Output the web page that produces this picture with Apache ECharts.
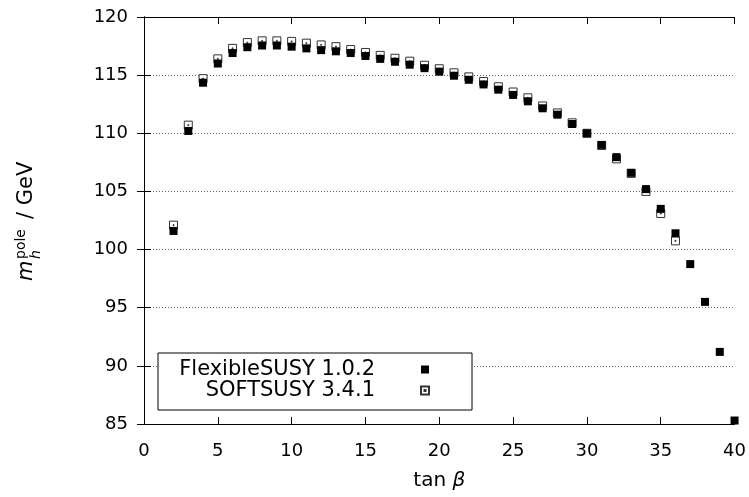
<!DOCTYPE html>
<html>
<head>
<meta charset="utf-8">
<script src="https://cdn.jsdelivr.net/npm/echarts@6/dist/echarts.min.js"></script>
<style>
  html, body { margin: 0; padding: 0; background: #fff; }
  #main { width: 749px; height: 497px; }
</style>
</head>
<body>
<div id="main"></div>
<script>
// tan(beta) values for each spectrum generator
var tanBetaFS = [2, 3, 4, 5, 6, 7, 8, 9, 10, 11, 12, 13, 14, 15, 16, 17, 18, 19, 20,
    21, 22, 23, 24, 25, 26, 27, 28, 29, 30, 31, 32, 33, 34, 35, 36, 37, 38, 39, 40];
var mhFS = [101.6, 110.2, 114.35, 116.0, 116.9, 117.4, 117.55, 117.55, 117.45, 117.3,
    117.15, 117.05, 116.9, 116.65, 116.4, 116.15, 115.9, 115.6, 115.3, 114.95,
    114.6, 114.2, 113.75, 113.3, 112.75, 112.15, 111.6, 110.8, 110.0, 109.0,
    107.95, 106.6, 105.2, 103.5, 101.4, 98.75, 95.5, 91.2, 85.3];

var tanBetaSS = [2, 3, 4, 5, 6, 7, 8, 9, 10, 11, 12, 13, 14, 15, 16, 17, 18, 19, 20,
    21, 22, 23, 24, 25, 26, 27, 28, 29, 30, 31, 32, 33, 34, 35, 36];
var mhSS = [102.1, 110.7, 114.7, 116.4, 117.3, 117.8, 117.95, 117.95, 117.9, 117.75,
    117.6, 117.45, 117.2, 116.95, 116.7, 116.45, 116.2, 115.85, 115.55, 115.2,
    114.85, 114.45, 114.0, 113.55, 113.05, 112.35, 111.75, 110.9, 110.0, 108.95,
    107.8, 106.55, 105.0, 103.1, 100.75];

var seriesNames = ['FlexibleSUSY 1.0.2', 'SOFTSUSY 3.4.1'];

var FONT = '"DejaVu Sans", sans-serif';
var openSquare = 'path://M0,0L8,0L8,8L0,8Z M3.5,3.5L4.5,3.5L4.5,4.5L3.5,4.5Z';

function zip(xs, ys) {
    return xs.map(function (x, i) { return [x, ys[i]]; });
}

var myChart = echarts.init(document.getElementById('main'));
var option = {
    animation: false,
    backgroundColor: '#fff',
    grid: { left: 144, right: 13, top: 17, bottom: 73 },
    xAxis: [
        {
            type: 'value', min: 0, max: 40, interval: 5,
            name: '{a|tan }{b|β}',
            nameLocation: 'middle', nameGap: 47,
            nameTextStyle: {
                rich: {
                    a: { fontFamily: FONT, fontSize: 20, color: '#000' },
                    b: { fontFamily: FONT, fontSize: 20, fontStyle: 'italic', color: '#000' }
                }
            },
            axisLine: { lineStyle: { color: '#000', width: 1 } },
            axisTick: { inside: true, length: 7, lineStyle: { color: '#000' } },
            axisLabel: { margin: 18, color: '#000', fontFamily: FONT, fontSize: 18 },
            splitLine: { show: false }
        },
        {
            type: 'value', position: 'top', min: 0, max: 40, interval: 5,
            axisLine: { lineStyle: { color: '#000', width: 1 } },
            axisTick: { inside: true, length: 7, lineStyle: { color: '#000' } },
            axisLabel: { show: false },
            splitLine: { show: false }
        }
    ],
    yAxis: [
        {
            type: 'value', min: 85, max: 120, interval: 5,
            axisLine: { show: true, lineStyle: { color: '#000', width: 1 } },
            axisTick: { show: true, inside: true, length: 7, lineStyle: { color: '#000' } },
            axisLabel: { margin: 16, color: '#000', fontFamily: FONT, fontSize: 18 },
            splitLine: { show: true, lineStyle: { color: '#666', width: 1, type: [1, 2] } }
        },
        {
            type: 'value', position: 'right', min: 85, max: 120, interval: 5,
            axisLine: { show: true, lineStyle: { color: '#000', width: 1 } },
            axisTick: { show: true, inside: true, length: 7, lineStyle: { color: '#000' } },
            axisLabel: { show: false },
            splitLine: { show: false }
        }
    ],
    legend: {
        data: [
            { name: seriesNames[0], icon: 'rect' },
            { name: seriesNames[1], icon: openSquare }
        ],
        orient: 'vertical',
        left: 158, top: 353,
        align: 'right',
        itemWidth: 8, itemHeight: 8,
        itemGap: 0,
        padding: [6, 42, 9, 12],
        backgroundColor: '#fff',
        borderColor: '#000', borderWidth: 1, borderRadius: 0,
        selectedMode: false,
        formatter: function (name) { return '{t|' + name + '}'; },
        textStyle: {
            rich: {
                t: {
                    width: 205, align: 'right', padding: [0, 41, 0, 0],
                    fontFamily: FONT, fontSize: 21, lineHeight: 26, color: '#000'
                }
            }
        }
    },
    graphic: [
        {
            type: 'group', x: 37, y: 281, rotation: Math.PI / 2,
            children: [
                { type: 'text', x: 0, y: 0, style: { text: 'm', font: 'italic 21px ' + FONT, fill: '#000', verticalAlign: 'bottom', textVerticalAlign: 'bottom' } },
                { type: 'text', x: 22, y: -9, style: { text: 'pole', font: '14px ' + FONT, fill: '#000', verticalAlign: 'bottom', textVerticalAlign: 'bottom' } },
                { type: 'text', x: 22, y: 6, style: { text: 'h', font: 'italic 14px ' + FONT, fill: '#000', verticalAlign: 'bottom', textVerticalAlign: 'bottom' } },
                { type: 'text', x: 62, y: 0, style: { text: '/ GeV', font: '21px ' + FONT, fill: '#000', verticalAlign: 'bottom', textVerticalAlign: 'bottom' } }
            ]
        }
    ],
    series: [
        {
            name: seriesNames[1],
            type: 'scatter',
            symbol: openSquare,
            symbolSize: 8,
            itemStyle: { color: '#fff', borderColor: '#333', borderWidth: 1, opacity: 1 },
            data: zip(tanBetaSS, mhSS),
            z: 2
        },
        {
            name: seriesNames[0],
            type: 'scatter',
            symbol: 'rect',
            symbolSize: 8,
            itemStyle: { color: '#000', opacity: 1 },
            data: zip(tanBetaFS, mhFS),
            z: 3
        }
    ]
};
myChart.setOption(option);
</script>
</body>
</html>
